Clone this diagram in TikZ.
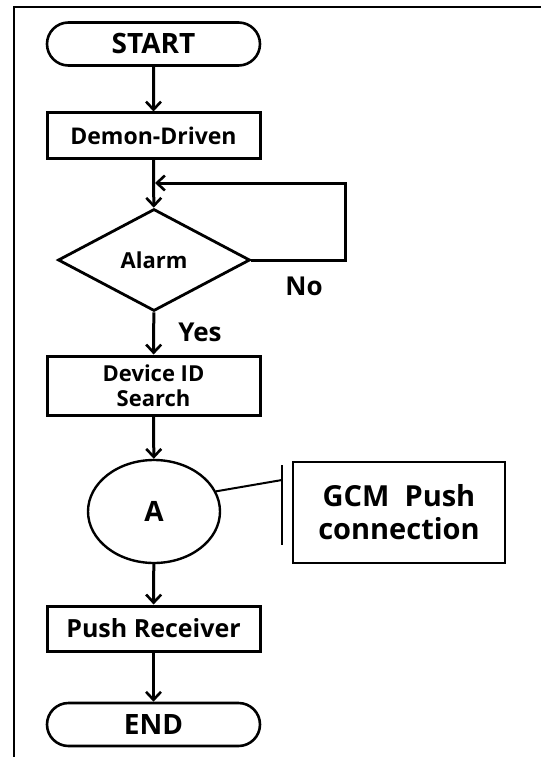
\documentclass[tikz,border=0pt]{standalone}
\usepackage{fontspec}
\setmainfont{Open Sans}
\usetikzlibrary{shapes.geometric,shapes.misc,arrows.meta}

\tikzset{
  flowline/.style={line width=3pt, draw=black},
  arrowline/.style={flowline, -{Straight Barb[length=8pt,width=15pt,line width=2.6pt]}},
  terminal/.style={rounded rectangle, draw, line width=2.6pt, minimum width=213pt,
                   minimum height=43pt, inner sep=0pt, font=\bfseries\fontsize{28}{32}\selectfont},
  process/.style={rectangle, draw, line width=3pt, minimum width=213pt,
                  minimum height=45pt, inner sep=0pt, align=center},
  decision/.style={diamond, draw, line width=2.8pt, aspect=1.9, minimum width=192pt,
                   minimum height=102pt, inner sep=0pt, font=\bfseries\fontsize{22}{26}\selectfont},
  connector/.style={ellipse, draw, line width=2.4pt, minimum width=132pt, minimum height=103pt,
                    inner sep=0pt, font=\bfseries\fontsize{28}{32}\selectfont},
  note/.style={rectangle, draw, line width=2.4pt, minimum width=212pt, minimum height=101pt,
               inner sep=0pt, align=center, font=\bfseries\fontsize{29}{33}\selectfont},
  branch/.style={font=\bfseries\fontsize{26}{30}\selectfont}
}

\begin{document}
\begin{tikzpicture}[x=1pt,y=-1pt]
  \useasboundingbox (0,0) rectangle (541,757);

  % cropped outer frame
  \draw[line width=2.6pt] (14,757) -- (14,7) -- (541,7);

  % flow nodes
  \node[terminal] (start) at (153.5,44) {START};
  \node[process, font=\bfseries\fontsize{23}{27}\selectfont] (demon) at (153.5,135.5) {Demon-Driven};
  \node[decision] (alarm) at (154,260) {Alarm};
  \node[process, minimum height=59pt, font=\bfseries\fontsize{22}{25}\selectfont] (device) at (153.5,385.5) {Device ID\\Search};
  \node[connector] (conA) at (154,511.5) {A};
  \node[note] (gcm) at (399,512.5) {GCM~~Push\\connection};
  \node[process, font=\bfseries\fontsize{25}{29}\selectfont] (push) at (153.5,628.5) {Push Receiver};
  \node[terminal] (end) at (153.5,724.5) {END};

  % branch labels
  \node[branch] (nolbl) at (304,286) {No};
  \node[branch] (yeslbl) at (200,332) {Yes};

  % loop-back corners and annotation bar
  \coordinate (loopR) at (345,260);
  \coordinate (loopT) at (345,183);
  \coordinate (loopIn) at (155,183);
  \coordinate (barTop) at (282,465);
  \coordinate (barBot) at (282,545);
  \coordinate (barHit) at (282,480);

  % connectors
  \draw[arrowline] (start) -- (demon);
  \draw[arrowline] (demon) -- (alarm);
  \draw[arrowline] (alarm.east) -- (loopR) -- (loopT) -- (loopIn);
  \draw[arrowline] (alarm) -- (device);
  \draw[arrowline] (device) -- (conA);
  \draw[arrowline] (conA) -- (push);
  \draw[arrowline] (push) -- (end);

  % annotation link to the GCM note
  \draw[line width=2pt] (conA.18) -- (barHit);
  \draw[line width=2.4pt] (barTop) -- (barBot);
\end{tikzpicture}
\end{document}
